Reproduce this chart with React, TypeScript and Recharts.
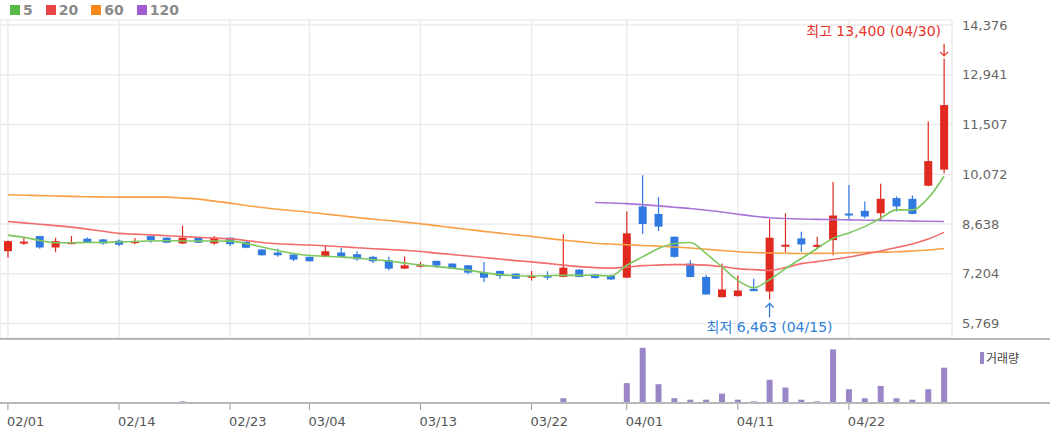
import React from 'react';
import {
  ComposedChart, Bar, Line, XAxis, YAxis, CartesianGrid, ReferenceDot,
} from 'recharts';

const dates = [
  '02/01', '02/02', '02/05', '02/06', '02/07', '02/08', '02/13', '02/14', '02/15', '02/16',
  '02/19', '02/20', '02/21', '02/22', '02/23', '02/26', '02/27', '02/28', '02/29', '03/04',
  '03/05', '03/06', '03/07', '03/08', '03/11', '03/12', '03/13', '03/14', '03/15', '03/18',
  '03/19', '03/20', '03/21', '03/22', '03/25', '03/26', '03/27', '03/28', '03/29', '04/01',
  '04/02', '04/03', '04/04', '04/05', '04/08', '04/09', '04/11', '04/12', '04/15', '04/16',
  '04/17', '04/18', '04/19', '04/22', '04/23', '04/24', '04/25', '04/26', '04/29', '04/30',
];

const opens = [
  7854, 8110, 8289, 7961, 8100, 8214, 8194, 8156, 8086, 8289,
  8243, 8077, 8243, 8077, 8243, 8127, 7903, 7816, 7757, 7691,
  7691, 7816, 7766, 7691, 7592, 7351, 7430, 7575, 7497, 7447,
  7235, 7285, 7206, 7130, 7150, 7110, 7322, 7185, 7140, 7090,
  9143, 8928, 8272, 7496, 7110, 6529, 6558, 6770, 6692, 8020,
  8223, 8020, 8173, 8940, 9016, 8949, 9385, 9364, 9742, 10207,
];
const highs = [
  8160, 8270, 8300, 8243, 8290, 8252, 8200, 8194, 8231, 8295,
  8250, 8592, 8250, 8289, 8250, 8135, 7910, 7923, 7760, 7695,
  8010, 7950, 7854, 7720, 7691, 7700, 7545, 7580, 7505, 7455,
  7545, 7290, 7210, 7285, 7275, 8339, 7330, 7190, 7180, 8998,
  10044, 9414, 8280, 7592, 7177, 7496, 7156, 7060, 8783, 8949,
  8417, 8272, 9849, 9765, 9289, 9800, 9434, 9463, 11593, 13400,
];
const lows = [
  7662, 8030, 7923, 7825, 8057, 8098, 8040, 7999, 8057, 8098,
  8090, 8057, 8090, 8040, 7999, 7940, 7725, 7691, 7563, 7555,
  7680, 7680, 7575, 7517, 7302, 7340, 7380, 7380, 7340, 7186,
  6965, 7060, 7050, 7010, 7030, 7100, 7100, 7070, 7030, 7080,
  8348, 8435, 7662, 7100, 6600, 6520, 6550, 6700, 6463, 7816,
  7836, 7932, 7737, 8754, 8803, 8754, 9000, 8920, 9730, 10101,
];
const closes = [
  8144, 8130, 7961, 8144, 8115, 8115, 8077, 8040, 8144, 8173,
  8098, 8243, 8098, 8243, 8057, 7953, 7737, 7737, 7612, 7563,
  7854, 7691, 7621, 7563, 7351, 7447, 7467, 7438, 7351, 7235,
  7090, 7139, 7060, 7145, 7135, 7380, 7110, 7080, 7040, 8368,
  8638, 8562, 7691, 7110, 6605, 6750, 6721, 6704, 8243, 8040,
  8049, 8035, 8882, 8920, 8853, 9364, 9143, 8928, 10451, 12066,
];
const volumes = [
  14000, 12000, 16000, 11000, 13000, 10000, 12000, 15000, 11000, 14000,
  13000, 85000, 12000, 15000, 11000, 13000, 12000, 10000, 14000, 12000,
  13000, 11000, 10000, 12000, 15000, 13000, 11000, 10000, 12000, 14000,
  16000, 11000, 10000, 13000, 12000, 245000, 18000, 15000, 14000, 1026000,
  2850000, 969000, 245000, 171000, 171000, 485000, 171000, 85000, 1197000, 798000,
  171000, 85000, 2765000, 712000, 245000, 884000, 245000, 171000, 712000, 1824000,
];

const ma5 = [
  8318, 8252, 8165, 8098, 8098, 8106, 8106, 8121, 8135, 8150,
  8156, 8150, 8150, 8150, 8144, 8077, 7976, 7874, 7787, 7729,
  7708, 7685, 7656, 7613, 7569, 7511, 7453, 7409, 7366, 7308,
  7235, 7177, 7148, 7139, 7148, 7156, 7156, 7162, 7139, 7447,
  7691, 7932, 8077, 8106, 7787, 7400, 7011, 6799, 7032, 7351,
  7642, 7932, 8223, 8382, 8562, 8804, 9045, 9045, 9385, 10015,
];
const ma20 = [
  8708, 8670, 8629, 8592, 8548, 8490, 8429, 8368, 8345, 8325,
  8301, 8278, 8255, 8231, 8208, 8164, 8106, 8069, 8048, 8034,
  8011, 7984, 7955, 7926, 7903, 7877, 7845, 7798, 7758, 7714,
  7671, 7627, 7583, 7546, 7502, 7453, 7409, 7380, 7366, 7395,
  7438, 7453, 7467, 7467, 7453, 7409, 7351, 7322, 7302, 7380,
  7496, 7554, 7613, 7685, 7772, 7860, 7961, 8063, 8208, 8397,
];
const ma60 = [
  9480, 9469, 9457, 9446, 9434, 9425, 9419, 9414, 9414, 9414,
  9414, 9385, 9356, 9297, 9239, 9173, 9114, 9065, 9021, 8978,
  8926, 8876, 8824, 8775, 8737, 8693, 8644, 8592, 8533, 8478,
  8426, 8374, 8324, 8281, 8223, 8173, 8130, 8083, 8060, 8040,
  8019, 7999, 7976, 7947, 7912, 7874, 7839, 7816, 7801, 7793,
  7787, 7790, 7796, 7807, 7816, 7825, 7836, 7860, 7888, 7932,
];
const ma120 = [
  null, null, null, null, null, null, null, null, null, null,
  null, null, null, null, null, null, null, null, null, null,
  null, null, null, null, null, null, null, null, null, null,
  null, null, null, null, null, null, null, 9260, 9245, 9225,
  9196, 9161, 9123, 9085, 9036, 8984, 8920, 8862, 8818, 8795,
  8780, 8772, 8766, 8757, 8748, 8740, 8731, 8722, 8716, 8708,
];

const xTicks = ['02/01', '02/14', '02/23', '03/04', '03/13', '03/22', '04/01', '04/11', '04/22'];
const yTicks = [5769, 7204, 8638, 10072, 11507, 12941, 14376];

const RED = '#e0291f';
const BLUE = '#3079e0';
const FONT = '"DejaVu Sans", "Noto Sans CJK KR", sans-serif';

const data = dates.map((date, i) => ({
  date,
  open: opens[i],
  high: highs[i],
  low: lows[i],
  close: closes[i],
  range: [lows[i], highs[i]],
  volume: volumes[i],
  ma5: ma5[i],
  ma20: ma20[i],
  ma60: ma60[i],
  ma120: ma120[i],
}));

const iMax = highs.indexOf(Math.max(...highs));
const iMin = lows.indexOf(Math.min(...lows));
const fmt = (v: number) => v.toLocaleString('en-US');

function Candle(props: any) {
  const { x, y, width, height, payload } = props;
  const top0 = Math.min(y, y + height);
  const h = Math.abs(height);
  const { open, close, high, low } = payload;
  const ratio = high > low ? h / (high - low) : 0;
  const cx = x + width / 2;
  const bTop = top0 + (high - Math.max(open, close)) * ratio;
  const bBot = top0 + (high - Math.min(open, close)) * ratio;
  const color = close >= open ? RED : BLUE;
  return (
    <g>
      <line x1={cx} x2={cx} y1={top0} y2={top0 + h} stroke={color} strokeWidth={1.2} />
      <rect x={x} y={bTop} width={width} height={Math.max(2, bBot - bTop)} fill={color} />
    </g>
  );
}

function HighMark({ cx, cy }: any) {
  return (
    <g>
      <text x={cx - 3} y={cy - 23} textAnchor="end" fill="#e8332a" fontSize={14} fontFamily={FONT}>
        {`최고 ${fmt(highs[iMax])} (${dates[iMax]})`}
      </text>
      <line x1={cx} x2={cx} y1={cy - 15} y2={cy - 3} stroke="#e8332a" strokeWidth={1.3} />
      <path d={`M${cx - 4},${cy - 7} L${cx},${cy - 3} L${cx + 4},${cy - 7}`} fill="none" stroke="#e8332a" strokeWidth={1.3} />
    </g>
  );
}

function LowMark({ cx, cy }: any) {
  return (
    <g>
      <line x1={cx} x2={cx} y1={cy + 4} y2={cy + 18} stroke="#2f7fd8" strokeWidth={1.3} />
      <path d={`M${cx - 4},${cy + 8} L${cx},${cy + 4} L${cx + 4},${cy + 8}`} fill="none" stroke="#2f7fd8" strokeWidth={1.3} />
      <text x={cx} y={cy + 33} textAnchor="middle" fill="#2f7fd8" fontSize={14} fontFamily={FONT}>
        {`최저 ${fmt(lows[iMin])} (${dates[iMin]})`}
      </text>
    </g>
  );
}

function DateTick({ x, y, payload }: any) {
  return (
    <text x={x - 1} y={y + 14} textAnchor="start" fill="#555" fontSize={13} fontFamily={FONT}>
      {payload.value}
    </text>
  );
}

const legendItems = [
  { label: '5', color: '#56b845' },
  { label: '20', color: '#e84646' },
  { label: '60', color: '#f5891e' },
  { label: '120', color: '#a15bd0' },
];

export default function App() {
  return (
    <div style={{ position: 'absolute', left: 0, top: 0, width: 1050, height: 434, background: '#fff', fontFamily: FONT }}>
      <div style={{ position: 'absolute', left: 10, top: 2, display: 'flex', gap: 13, fontSize: 14, fontWeight: 'bold', color: '#8a8a8a' }}>
        {legendItems.map((it) => (
          <div key={it.label} style={{ display: 'flex', alignItems: 'center', gap: 3 }}>
            <span style={{ width: 10, height: 10, background: it.color, display: 'inline-block' }} />
            <span>{it.label}</span>
          </div>
        ))}
      </div>

      <div style={{ position: 'absolute', left: 0, top: 0 }}>
        <ComposedChart width={1050} height={340} data={data} margin={{ top: 20, right: 0, left: 0, bottom: 2 }}>
          <CartesianGrid stroke="#ebebeb" strokeWidth={1.5} />
          <XAxis dataKey="date" ticks={xTicks} interval={0} hide />
          <YAxis
            orientation="right"
            width={98}
            domain={[5351, 14520]}
            ticks={yTicks}
            type="number"
            axisLine={false}
            tickLine={false}
            tickMargin={4}
            tick={{ fill: '#666', fontSize: 13, fontFamily: FONT }}
            tickFormatter={(v: number) => fmt(v)}
          />
          <Line dataKey="ma60" stroke="#f7a045" strokeWidth={1.6} dot={false} activeDot={false} type="monotone" isAnimationActive={false} />
          <Line dataKey="ma120" stroke="#a874d8" strokeWidth={1.6} dot={false} activeDot={false} type="monotone" isAnimationActive={false} />
          <Line dataKey="ma20" stroke="#f26c6c" strokeWidth={1.6} dot={false} activeDot={false} type="monotone" isAnimationActive={false} />
          <Line dataKey="ma5" stroke="#7cc75e" strokeWidth={1.6} dot={false} activeDot={false} type="monotone" isAnimationActive={false} />
          <Bar dataKey="range" barSize={8} shape={<Candle />} isAnimationActive={false} />
          <ReferenceDot x={dates[iMax]} y={highs[iMax]} r={0} shape={(p: any) => <HighMark {...p} />} />
          <ReferenceDot x={dates[iMin]} y={lows[iMin]} r={0} shape={(p: any) => <LowMark {...p} />} />
        </ComposedChart>
      </div>

      <div style={{ position: 'absolute', left: 0, top: 338, width: 1050, height: 2, background: '#b8b8b8' }} />

      <div style={{ position: 'absolute', left: 0, top: 340 }}>
        <ComposedChart width={1050} height={94} data={data} margin={{ top: 1, right: 0, left: 0, bottom: 0 }}>
          <XAxis
            dataKey="date"
            ticks={xTicks}
            interval={0}
            height={31}
            axisLine={false}
            tickLine={{ stroke: '#999' }}
            tickSize={7}
            tick={<DateTick />}
          />
          <YAxis orientation="right" width={98} domain={[0, 3200000]} tick={false} axisLine={false} tickLine={false} />
          <Bar dataKey="volume" fill="#9a86c7" barSize={6} isAnimationActive={false} />
        </ComposedChart>
      </div>

      <div style={{ position: 'absolute', left: 0, top: 402, width: 1050, height: 2, background: '#b8b8b8' }} />

      <div style={{ position: 'absolute', left: 980, top: 349, display: 'flex', alignItems: 'center', gap: 2, fontSize: 12, color: '#444', fontFamily: '"Noto Sans CJK KR", sans-serif' }}>
        <span style={{ width: 4, height: 12, background: '#9a86c7', display: 'inline-block' }} />
        <span>거래량</span>
      </div>
    </div>
  );
}
